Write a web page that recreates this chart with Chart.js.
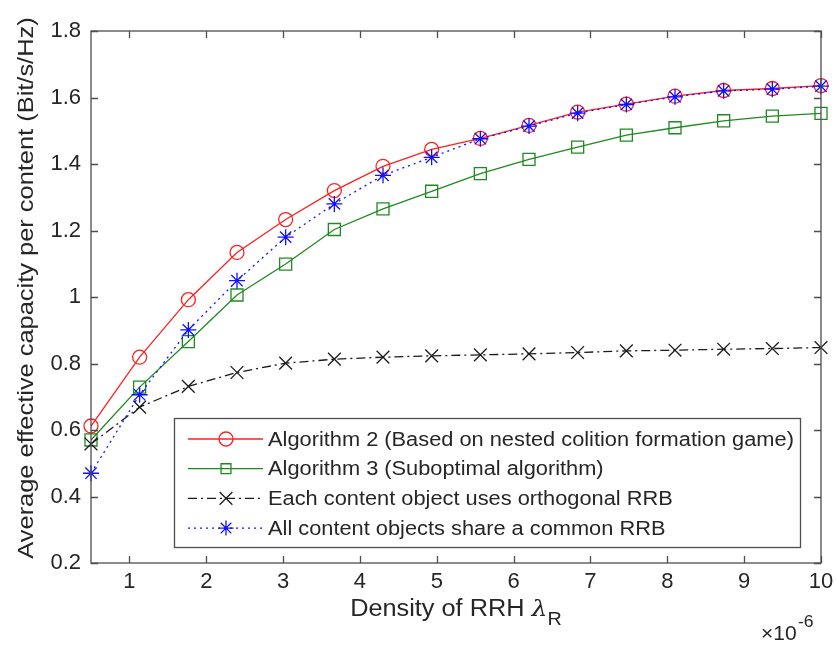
<!DOCTYPE html>
<html>
<head>
<meta charset="utf-8">
<script src="https://cdn.jsdelivr.net/npm/chart.js@4.4.1/dist/chart.umd.min.js"></script>
<style>
  html, body { margin: 0; padding: 0; background: #fff; }
  #wrap { width: 836px; height: 647px; }
</style>
</head>
<body>
<div id="wrap"><canvas id="capacity-chart" width="836" height="647"></canvas></div>
<script>
// RRH density (x 10^-6)
const density = [0.5, 1.133, 1.767, 2.4, 3.033, 3.667, 4.3, 4.933, 5.567, 6.2, 6.833, 7.467, 8.1, 8.733, 9.367, 10];

// Average effective capacity per content (Bit/s/Hz)
const alg2 = [0.612, 0.819, 0.992, 1.134, 1.233, 1.320, 1.393, 1.444, 1.477, 1.516, 1.556, 1.580, 1.604, 1.621, 1.627, 1.636];
const alg3 = [0.570, 0.729, 0.866, 1.006, 1.099, 1.203, 1.265, 1.318, 1.371, 1.414, 1.451, 1.487, 1.509, 1.530, 1.544, 1.552];
const orthogonal = [0.558, 0.669, 0.731, 0.773, 0.801, 0.813, 0.819, 0.823, 0.826, 0.829, 0.833, 0.838, 0.840, 0.843, 0.845, 0.848];
const shared = [0.470, 0.706, 0.901, 1.049, 1.180, 1.280, 1.366, 1.420, 1.476, 1.514, 1.553, 1.579, 1.602, 1.620, 1.625, 1.634];

const xTicks = [1, 2, 3, 4, 5, 6, 7, 8, 9, 10];
const yTicks = [0.2, 0.4, 0.6, 0.8, 1, 1.2, 1.4, 1.6, 1.8];

const labels = [
  'Algorithm 2 (Based on nested colition formation game)',
  'Algorithm 3 (Suboptimal algorithm)',
  'Each content object uses orthogonal RRB',
  'All content objects share a common RRB'
];

const FONT = '"Liberation Sans", Arial, sans-serif';
const TEXT = '#262626';
const AXIS = '#4d4d4d';

function pts(ys) {
  return ys.map((y, i) => ({ x: density[i], y: y }));
}

const series = [
  { label: labels[0], data: pts(alg2), borderColor: '#ff2020', pointStyle: 'circle', pointRadius: 7, legendRadius: 7, borderDash: [], order: 4 },
  { label: labels[1], data: pts(alg3), borderColor: '#1f8a1f', pointStyle: 'rect', pointRadius: 8.5, legendRadius: 7, borderDash: [], order: 3 },
  { label: labels[2], data: pts(orthogonal), borderColor: '#1a1a1a', pointStyle: 'crossRot', pointRadius: 9, legendRadius: 9, borderDash: [9, 4, 2, 4], order: 2 },
  { label: labels[3], data: pts(shared), borderColor: '#1010ff', pointStyle: 'star', pointRadius: 8, legendRadius: 7.5, borderDash: [2, 4], order: 1 }
];

// text stretched horizontally by factor sx
function wideText(ctx, txt, x, y, sx) {
  ctx.save();
  ctx.translate(x, y);
  ctx.scale(sx, 1);
  ctx.fillText(txt, 0, 0);
  ctx.restore();
}

// MATLAB-style box with inward ticks on all four sides, plus titles and legend
const boxPlugin = {
  id: 'box',
  afterDatasetsDraw(chart) {
    const { ctx, chartArea: a, scales: { x, y } } = chart;
    ctx.save();
    ctx.strokeStyle = AXIS;
    ctx.lineWidth = 1.3;
    ctx.strokeRect(a.left, a.top, a.right - a.left, a.bottom - a.top);
    const t = 7;
    ctx.beginPath();
    xTicks.forEach(v => {
      const px = Math.round(x.getPixelForValue(v)) + 0.5;
      ctx.moveTo(px, a.bottom); ctx.lineTo(px, a.bottom - t);
      ctx.moveTo(px, a.top); ctx.lineTo(px, a.top + t);
    });
    yTicks.forEach(v => {
      const py = Math.round(y.getPixelForValue(v)) + 0.5;
      ctx.moveTo(a.left, py); ctx.lineTo(a.left + t, py);
      ctx.moveTo(a.right, py); ctx.lineTo(a.right - t, py);
    });
    ctx.stroke();
    ctx.restore();
  },
  afterDraw(chart) {
    const { ctx, chartArea: a } = chart;
    ctx.save();
    ctx.fillStyle = TEXT;
    ctx.textBaseline = 'alphabetic';
    ctx.textAlign = 'left';

    // x axis title with subscript
    const sx = 1.1;
    const main = 'Density of RRH ';
    const lam = '\u03BB';
    ctx.font = '23px ' + FONT;
    const w1 = ctx.measureText(main).width * sx;
    ctx.font = 'italic 23px "DejaVu Serif", serif';
    const w2 = ctx.measureText(lam).width * sx;
    ctx.font = '18px ' + FONT;
    const w3 = ctx.measureText('R').width * sx;
    const x0 = (a.left + a.right) / 2 - (w1 + w2 + w3) / 2;
    const base = 616;
    ctx.font = '23px ' + FONT;
    wideText(ctx, main, x0, base, sx);
    ctx.font = 'italic 23px "DejaVu Serif", serif';
    wideText(ctx, lam, x0 + w1, base, sx);
    ctx.font = '18px ' + FONT;
    wideText(ctx, 'R', x0 + w1 + w2, base + 9, sx);

    // exponent label
    ctx.font = '20px ' + FONT;
    wideText(ctx, '\u00D710', 761, 640, 1.05);
    ctx.font = '16px ' + FONT;
    wideText(ctx, '-6', 798, 627, 1.1);

    // y axis title
    ctx.font = '22px ' + FONT;
    ctx.textAlign = 'center';
    ctx.translate(33, 288);
    ctx.rotate(-Math.PI / 2);
    ctx.scale(1.155, 1);
    ctx.fillText('Average effective capacity per content (Bit/s/Hz)', 0, 0);
    ctx.restore();

    // legend box
    const lx = 174, ly = 418, lw = 626, lh = 129;
    ctx.save();
    ctx.fillStyle = '#fff';
    ctx.fillRect(lx, ly, lw, lh);
    ctx.strokeStyle = AXIS;
    ctx.lineWidth = 1.3;
    ctx.strokeRect(lx + 0.5, ly + 0.5, lw, lh);
    ctx.font = '20px ' + FONT;
    ctx.textBaseline = 'middle';
    ctx.textAlign = 'left';
    chart.data.datasets.forEach((ds, i) => {
      const yy = ly + 21 + i * 29.7;
      ctx.strokeStyle = ds.borderColor;
      ctx.lineWidth = 1.3;
      ctx.setLineDash(ds.borderDash);
      ctx.beginPath();
      ctx.moveTo(188, yy); ctx.lineTo(263, yy);
      ctx.stroke();
      ctx.setLineDash([]);
      ctx.fillStyle = 'rgba(0,0,0,0)';
      Chart.helpers.drawPoint(ctx, { pointStyle: ds.pointStyle, radius: ds.legendRadius, rotation: 0, borderWidth: 1.3 }, 226, yy);
      ctx.fillStyle = TEXT;
      wideText(ctx, ds.label, 268, yy + 1, 1.09);
    });
    ctx.restore();
  }
};

new Chart(document.getElementById('capacity-chart'), {
  type: 'line',
  data: {
    datasets: series.map(s => Object.assign({
      borderWidth: 1.3,
      backgroundColor: 'rgba(0,0,0,0)',
      pointBorderWidth: 1.3,
      pointBackgroundColor: 'rgba(0,0,0,0)',
      pointBorderColor: s.borderColor,
      tension: 0,
      fill: false,
      clip: false
    }, s))
  },
  options: {
    responsive: false,
    animation: false,
    events: [],
    layout: { padding: { top: 31, right: 15, left: 0, bottom: 0 } },
    plugins: { legend: { display: false }, tooltip: { enabled: false } },
    scales: {
      x: {
        type: 'linear',
        min: 0.5,
        max: 10,
        afterBuildTicks(scale) { scale.ticks = xTicks.map(v => ({ value: v })); },
        afterFit(scale) {
          scale.height = 84;
          scale.paddingLeft = 0;
          scale.paddingRight = 0;
        },
        grid: { display: false, drawTicks: false },
        border: { display: false },
        ticks: { color: TEXT, font: { family: FONT, size: 22 }, padding: 6, maxRotation: 0, callback: v => String(v) }
      },
      y: {
        min: 0.2,
        max: 1.8,
        afterBuildTicks(scale) { scale.ticks = yTicks.map(v => ({ value: v })); },
        afterFit(scale) {
          scale.width = 91;
          scale.paddingTop = 0;
          scale.paddingBottom = 0;
        },
        grid: { display: false, drawTicks: false },
        border: { display: false },
        ticks: { color: TEXT, font: { family: FONT, size: 22 }, padding: 10, callback: v => String(v) }
      }
    }
  },
  plugins: [boxPlugin]
});
</script>
</body>
</html>
